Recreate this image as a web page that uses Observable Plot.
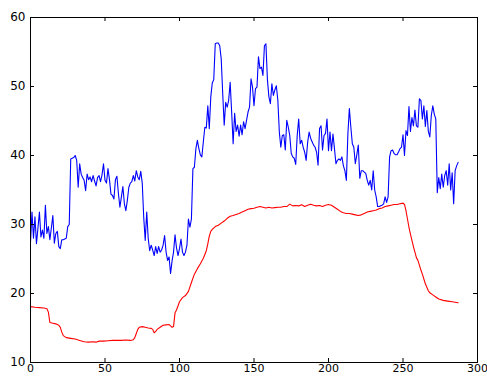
<!DOCTYPE html>
<html>
<head>
<meta charset="utf-8">
<script src="https://cdn.jsdelivr.net/npm/d3@7"></script>
<script src="https://cdn.jsdelivr.net/npm/@observablehq/plot@0.6"></script>
<style>
  html, body { margin: 0; padding: 0; background: white; overflow: hidden; }
</style>
</head>
<body>
<div id="chart"></div>
<script>
// Blue series: one sample per x = 0..287
const blueValues = [
  27.4, 31.8, 28.0, 31.1, 27.2, 29.5, 31.8, 28.2, 29.2, 28.0,
  32.8, 28.7, 29.7, 27.8, 29.5, 31.3, 27.3, 28.7, 29.0, 26.8,
  26.5, 27.8, 27.8, 27.9, 28.0, 29.7, 30.0, 39.5, 39.6, 39.7,
  40.0, 39.3, 35.4, 38.8, 37.3, 36.8, 36.4, 34.9, 37.3, 36.5,
  36.9, 36.2, 37.1, 36.3, 35.6, 36.8, 37.1, 36.2, 37.2, 38.8,
  36.4, 36.0, 38.1, 36.5, 34.4, 34.2, 33.7, 36.5, 37.0, 34.5,
  32.5, 34.0, 35.5, 33.0, 32.0, 33.5, 35.4, 36.0, 36.2, 37.1,
  36.3, 37.8, 36.9, 36.5, 37.7, 36.0, 31.0, 27.7, 31.8, 28.0,
  26.2, 27.0, 26.3, 25.5, 26.8, 25.8, 26.8, 26.0, 26.3, 27.0,
  28.4, 26.0, 24.8, 25.3, 22.9, 24.7, 26.0, 28.5, 26.6, 25.5,
  26.5, 27.9, 26.0, 25.5, 26.0, 27.0, 30.8, 29.6, 30.8, 38.1,
  38.3, 41.0, 42.2, 41.0, 40.1, 39.8, 42.0, 44.1, 44.0, 47.2,
  43.9, 48.5, 50.5, 51.0, 56.2, 56.3, 56.3, 55.9, 54.0, 49.0,
  44.4, 47.7, 47.0, 48.0, 50.6, 46.3, 41.7, 46.1, 43.5, 44.4,
  42.8, 44.4, 43.0, 44.9, 43.9, 45.1, 46.3, 47.0, 51.1, 49.9,
  47.2, 49.7, 49.9, 54.3, 52.6, 52.8, 51.6, 55.9, 56.2, 51.0,
  48.5, 47.5, 50.4, 48.7, 49.5, 50.1, 48.0, 43.4, 41.2, 42.9,
  43.0, 40.8, 45.1, 44.1, 42.9, 40.3, 39.8, 39.6, 38.7, 42.9,
  45.3, 41.7, 42.2, 41.2, 40.5, 39.3, 41.9, 43.4, 42.5, 42.0,
  41.5, 41.2, 40.5, 38.6, 43.9, 44.3, 40.8, 42.9, 43.2, 45.3,
  40.7, 43.4, 40.7, 43.1, 41.0, 38.8, 39.3, 39.5, 39.3, 39.8,
  38.5, 37.8, 36.4, 43.1, 46.8, 44.1, 41.7, 41.2, 38.8, 40.1,
  41.5, 36.7, 37.8, 37.8, 37.6, 37.4, 36.4, 35.7, 36.4, 35.0,
  37.8, 35.0, 34.0, 32.6, 32.6, 32.7, 32.8, 33.0, 34.0, 33.2,
  34.0, 39.8, 40.7, 40.8, 40.3, 40.1, 40.1, 40.5, 41.0, 41.2,
  43.0, 40.0, 43.6, 42.9, 47.1, 43.5, 45.5, 44.3, 46.6, 44.3,
  44.1, 48.2, 48.0, 45.3, 47.2, 44.2, 46.5, 43.5, 42.7, 45.8,
  47.2, 46.0, 45.3, 34.6, 36.8, 35.2, 37.3, 35.4, 37.1, 37.8,
  35.7, 38.8, 35.0, 37.5, 33.0, 37.8, 38.5, 39.0
];
const blueX = blueValues.map((_, i) => i);

// Red series (smooth), sampled x positions and values
const redX = [
  0, 3, 6, 9, 11, 12, 13, 15, 17, 19, 20, 21, 22, 24, 27, 30, 33, 36, 39, 42,
  44, 46, 49, 52, 55, 58, 61, 64, 67, 69, 70, 71, 72, 73, 75, 77, 79, 81, 82, 83,
  84, 85, 87, 89, 91, 93, 94, 95, 96, 97, 98, 100, 102, 104, 106, 108, 110, 112, 114, 116,
  118, 119, 120, 121, 122, 124, 126, 128, 130, 132, 134, 136, 138, 140, 142, 144, 146, 148, 150, 152,
  154, 156, 158, 160, 162, 164, 166, 168, 170, 172, 174, 176, 178, 180, 182, 184, 186, 188, 190, 192,
  194, 196, 198, 200, 202, 204, 206, 208, 210, 212, 214, 216, 218, 220, 222, 224, 226, 228, 230, 232,
  234, 236, 238, 240, 242, 244, 246, 248, 250, 251, 252, 253, 254, 255, 256, 257, 258, 259, 260, 261,
  262, 263, 264, 265, 266, 267, 268, 270, 272, 274, 277, 280, 283, 287
];
const redValues = [
  18.1, 18.0, 17.95, 17.9, 17.8, 17.3, 15.8, 15.7, 15.6, 15.4, 15.1, 14.4, 13.9, 13.6, 13.5, 13.4, 13.2, 13.0, 12.95, 13.0,
  12.95, 13.1, 13.1, 13.15, 13.2, 13.2, 13.2, 13.25, 13.2, 13.3, 13.6, 14.2, 14.8, 15.1, 15.2, 15.1, 15.0, 14.95, 14.8, 14.3,
  14.5, 14.8, 15.1, 15.4, 15.45, 15.5, 15.3, 15.1, 15.2, 17.2, 17.6, 18.8, 19.4, 19.7, 20.3, 21.6, 22.8, 23.6, 24.3, 25.1,
  26.2, 27.2, 28.3, 29.0, 29.3, 29.7, 29.9, 30.2, 30.5, 30.9, 31.2, 31.3, 31.45, 31.6, 31.8, 32.0, 32.2, 32.3, 32.35, 32.5,
  32.6, 32.5, 32.4, 32.5, 32.4, 32.45, 32.5, 32.5, 32.6, 32.6, 32.95, 32.7, 32.75, 32.7, 32.85, 32.6, 32.8, 32.95, 32.8, 32.7,
  32.75, 32.6, 32.8, 32.9, 32.8, 32.5, 32.2, 31.9, 31.7, 31.6, 31.6, 31.5, 31.4, 31.3, 31.4, 31.6, 31.8, 31.9, 32.0, 32.1,
  32.3, 32.4, 32.6, 32.7, 32.8, 32.9, 32.9, 33.0, 33.1, 32.9, 32.0, 30.8, 29.6, 28.6, 27.7, 26.8, 26.0, 25.2, 24.8, 24.1,
  23.4, 22.8, 22.1, 21.4, 20.9, 20.4, 20.1, 19.8, 19.5, 19.2, 19.0, 18.9, 18.8, 18.65
];

const xTicks = [0, 50, 100, 150, 200, 250, 300];
const yTicks = [10, 20, 30, 40, 50, 60];

const blue = blueX.map((x, i) => ({x, y: blueValues[i]}));
const red = redX.map((x, i) => ({x, y: redValues[i]}));

const W = 487, H = 376;
const mL = 30, mR = 10, mT = 17, mB = 14;
const innerH = H - mT - mB;
const innerW = W - mL - mR;
const tick = 4;

const chart = Plot.plot({
  width: W,
  height: H,
  marginLeft: mL,
  marginRight: mR,
  marginTop: mT,
  marginBottom: mB,
  x: {domain: [0, 300]},
  y: {domain: [10, 60]},
  style: {fontFamily: "'DejaVu Sans', sans-serif", fontSize: "12px", color: "#000", background: "white"},
  marks: [
    Plot.line(red, {x: "x", y: "y", stroke: "#ff0000", strokeWidth: 1.1}),
    Plot.line(blue, {x: "x", y: "y", stroke: "#0000ff", strokeWidth: 1.1}),
    Plot.frame({stroke: "#000", strokeWidth: 1}),
    Plot.tickX(xTicks, {x: d => d, insetTop: innerH - tick, stroke: "#000"}),
    Plot.tickX(xTicks, {x: d => d, insetBottom: innerH - tick, stroke: "#000"}),
    Plot.tickY(yTicks, {y: d => d, insetRight: innerW - tick, stroke: "#000"}),
    Plot.tickY(yTicks, {y: d => d, insetLeft: innerW - tick, stroke: "#000"}),
    Plot.axisX(xTicks, {tickSize: 0, tickPadding: 2, fontSize: 11, label: null}),
    Plot.axisY(yTicks, {tickSize: 0, tickPadding: 5, label: null})
  ]
});
document.getElementById("chart").appendChild(chart);
</script>
</body>
</html>
